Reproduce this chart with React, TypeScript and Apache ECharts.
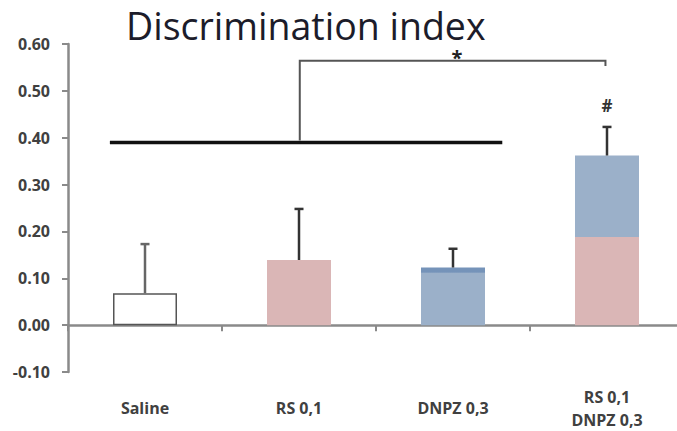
import React, { useEffect, useRef } from "react";
import * as echarts from "echarts";

const categories = ["Saline", "RS 0,1", "DNPZ 0,3", "RS 0,1\nDNPZ 0,3"];
const salineValues: (number | string)[] = [0.068, "-", "-", "-"];
const rsValues: (number | string)[] = ["-", 0.139, "-", 0.188];
const dnpzValues: (number | string)[] = ["-", "-", 0.123, 0.174];
const barMeans = [0.068, 0.139, 0.123, 0.362];
const errorTops = [0.173, 0.248, 0.163, 0.423];
const yMin = -0.1;
const yMax = 0.6;
const yInterval = 0.1;
const sigLineLevel = 0.39;
const bracketTop = 0.564;
const bracketEnd = 0.553;
const starLevel = 0.58;
const hashLevel = 0.468;

const PINK = "#dab6b6";
const BLUE = "#9bb0c9";
const BLUE_DARK = "#7593b9";
const AXIS = "#8a8a8a";
const LABEL = "#404040";

export default function App() {
  const ref = useRef<HTMLDivElement>(null);
  useEffect(() => {
    if (!ref.current) return;
    const chart = echarts.init(ref.current, undefined, { renderer: "svg" });

    const dnpzData = dnpzValues.map((v, i) =>
      i === 2 && typeof v === "number"
        ? {
            value: v,
            itemStyle: {
              color: new echarts.graphic.LinearGradient(0, 0, 0, 1, [
                { offset: 0, color: BLUE_DARK },
                { offset: 0.085, color: BLUE_DARK },
                { offset: 0.09, color: BLUE },
                { offset: 1, color: BLUE },
              ]),
            },
          }
        : v
    );

    const option: any = {
      animation: false,
      title: {
        text: "Discrimination index",
        left: 121,
        top: 1,
        textStyle: {
          fontFamily: "Open Sans",
          fontSize: 37.5,
          lineHeight: 38,
          fontWeight: "normal",
          color: "#1c1c2a",
        },
      },
      grid: { left: 68, right: 0, top: 44, bottom: 57, containLabel: false },
      xAxis: [
        {
          type: "category",
          data: categories,
          axisLine: { onZero: true, lineStyle: { color: AXIS, width: 2.5 } },
          axisTick: { show: true, length: 6, lineStyle: { color: AXIS, width: 2 } },
          axisLabel: { show: false },
          splitLine: { show: false },
        },
        {
          type: "category",
          data: categories,
          position: "bottom",
          axisLine: { show: false, onZero: false },
          axisTick: { show: false },
          axisLabel: {
            show: true,
            margin: 36,
            verticalAlign: "middle",
            fontFamily: "Open Sans",
            fontWeight: "bold",
            fontSize: 16,
            lineHeight: 23,
            color: LABEL,
            interval: 0,
          },
        },
      ],
      yAxis: {
        type: "value",
        min: yMin,
        max: yMax,
        interval: yInterval,
        axisLine: { show: true, lineStyle: { color: AXIS, width: 2.5 } },
        axisTick: { show: true, length: 6, lineStyle: { color: AXIS, width: 2 } },
        splitLine: { show: false },
        axisLabel: {
          margin: 18,
          fontFamily: "Open Sans",
          fontWeight: "bold",
          fontSize: 16,
          color: LABEL,
          formatter: (v: number) => v.toFixed(2),
        },
      },
      series: [
        {
          type: "bar",
          name: "Saline",
          stack: "s",
          xAxisIndex: 0,
          barWidth: 64,
          data: salineValues,
          itemStyle: { color: "#ffffff", borderColor: "#555", borderWidth: 1.5 },
          z: 2,
        },
        {
          type: "bar",
          name: "RS",
          stack: "s",
          xAxisIndex: 0,
          barWidth: 69,
          data: rsValues,
          itemStyle: { color: PINK },
          z: 2,
        },
        {
          type: "bar",
          name: "DNPZ",
          stack: "s",
          xAxisIndex: 0,
          barWidth: 69,
          data: dnpzData,
          itemStyle: { color: BLUE },
          z: 2,
        },
        {
          type: "custom",
          name: "error",
          xAxisIndex: 0,
          z: 4,
          data: categories.map((_, i) => [i, barMeans[i], errorTops[i]]),
          encode: { x: 0, y: [1, 2] },
          renderItem: (params: any, api: any) => {
            const x = api.value(0);
            const p0 = api.coord([x, api.value(1)]);
            const p1 = api.coord([x, api.value(2)]);
            const col = x === 0 ? "#666" : "#333";
            const cap = 4.5;
            return {
              type: "group",
              children: [
                {
                  type: "line",
                  shape: { x1: p0[0], y1: p0[1], x2: p1[0], y2: p1[1] },
                  style: { stroke: col, lineWidth: 2.5 },
                },
                {
                  type: "line",
                  shape: { x1: p1[0] - cap, y1: p1[1], x2: p1[0] + cap, y2: p1[1] },
                  style: { stroke: col, lineWidth: 2.5 },
                },
              ],
            };
          },
        },
        {
          type: "custom",
          name: "significance",
          xAxisIndex: 0,
          z: 5,
          data: [[0, sigLineLevel]],
          encode: { x: 0, y: 1 },
          renderItem: (params: any, api: any) => {
            const band = api.size([1, 0])[0];
            const a = api.coord([0, sigLineLevel]);
            const b = api.coord([2, sigLineLevel]);
            const c1 = api.coord([1, sigLineLevel]);
            const c1t = api.coord([1, bracketTop]);
            const c3t = api.coord([3, bracketTop]);
            const c3e = api.coord([3, bracketEnd]);
            const star = api.coord([2, starLevel]);
            const hash = api.coord([3, hashLevel]);
            const bx1 = c1[0] + 0.005 * band;
            const bx2 = c3t[0] - 0.01 * band;
            return {
              type: "group",
              children: [
                {
                  type: "line",
                  shape: { x1: a[0] - 0.228 * band, y1: a[1], x2: b[0] + 0.32 * band, y2: b[1] },
                  style: { stroke: "#111", lineWidth: 3.5 },
                },
                {
                  type: "polyline",
                  shape: {
                    points: [
                      [bx1, c1[1] - 2],
                      [bx1, c1t[1]],
                      [bx2, c3t[1]],
                      [bx2, c3e[1]],
                    ],
                  },
                  style: { stroke: "#555", lineWidth: 2, fill: "none" },
                },
                {
                  type: "text",
                  x: star[0] + 0.025 * band,
                  y: star[1] + 4,
                  style: {
                    text: "*",
                    fontSize: 20,
                    lineHeight: 12,
                    fontWeight: "bold",
                    fontFamily: "Open Sans",
                    fill: "#222",
                    align: "center",
                    verticalAlign: "middle",
                  },
                },
                {
                  type: "text",
                  x: hash[0],
                  y: hash[1],
                  style: {
                    text: "#",
                    fontSize: 17,
                    fontWeight: "bold",
                    fontFamily: "Open Sans",
                    fill: "#333",
                    align: "center",
                    verticalAlign: "middle",
                  },
                },
              ],
            };
          },
        },
      ],
    };
    chart.setOption(option);
    return () => chart.dispose();
  }, []);
  return (
    <div
      ref={ref}
      style={{ position: "fixed", left: 0, top: 0, width: 684, height: 431, background: "#fff" }}
    />
  );
}
